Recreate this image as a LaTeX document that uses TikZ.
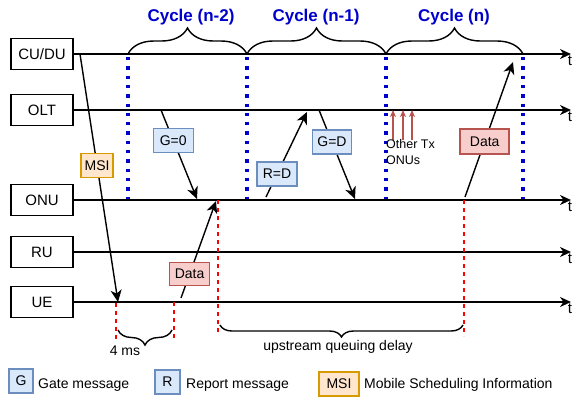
\documentclass[tikz,border=0pt]{standalone}
\usepackage{fontspec}
\setmainfont{Liberation Sans}
\usetikzlibrary{arrows.meta,decorations.pathreplacing}
\definecolor{cyc}{RGB}{0,0,204}
\definecolor{gfill}{HTML}{DAE8FC}
\definecolor{gline}{HTML}{6C8EBF}
\definecolor{dfill}{HTML}{F8CECC}
\definecolor{dline}{HTML}{B85450}
\definecolor{mfill}{HTML}{FFE6CC}
\definecolor{mline}{HTML}{D79B00}
\begin{document}
\begin{tikzpicture}[x=1pt,y=-1pt,
  every node/.style={font=\fontsize{14}{16}\selectfont},
  entity/.style={draw,line width=1.5pt,minimum width=62pt,minimum height=31pt,inner sep=0pt,font=\fontsize{15}{17}\selectfont},
  tl/.style={line width=1.4pt,-{Stealth[length=11pt,width=10pt,inset=3.5pt]}},
  msg/.style={line width=1.4pt,-{Stealth[length=12pt,width=11pt,inset=3.5pt]}},
  otx/.style={draw=dline,line width=1.3pt,-{Stealth[length=7pt,width=6pt,inset=2pt]}},
  tlab/.style={inner sep=0pt,anchor=north,font=\fontsize{15}{17}\selectfont},
  gbox/.style={draw=gline,fill=gfill,line width=1.4pt,inner sep=0pt,minimum height=24pt},
  dbox/.style={draw=dline,fill=dfill,line width=1.4pt,inner sep=0pt,minimum height=23pt},
  mbox/.style={draw=mline,fill=mfill,line width=1.4pt,inner sep=0pt,minimum height=24pt},
  cycline/.style={draw=cyc,line width=3.3pt,dash pattern=on 3.3pt off 6pt,dash phase=-3pt},
  reddash/.style={draw=red,line width=1.4pt,dash pattern=on 4pt off 4pt},
  brc/.style={decorate,decoration={brace,amplitude=#1},line width=1.4pt},
  brcm/.style={decorate,decoration={brace,mirror,amplitude=#1},line width=1.4pt},
  cyclab/.style={font=\fontsize{17}{20}\selectfont\bfseries,text=cyc,anchor=base},
]
\useasboundingbox (0,0) rectangle (573,397);

% entities
\node[entity] (cu) at (42,54) {CU/DU};
\node[entity] (olt) at (42,110) {OLT};
\node[entity] (onu) at (42,200) {ONU};
\node[entity] (ru) at (42,252) {RU};
\node[entity] (ue) at (42,302) {UE};

% cycle boundaries
\coordinate (c1t) at (128,54); \coordinate (c1b) at (128,200);
\coordinate (c2t) at (247,54); \coordinate (c2b) at (247,200);
\coordinate (c3t) at (386,54); \coordinate (c3b) at (386,200);
\coordinate (c4t) at (523,54); \coordinate (c4b) at (523,200);
\draw[cycline] (c1t) -- (c1b);
\draw[cycline] (c2t) -- (c2b);
\draw[cycline] (c3t) -- (c3b);
\draw[cycline] (c4t) -- (c4b);

% timelines
\coordinate (tend) at (571,0);
\draw[tl] (cu.east) -- (cu.east -| tend);
\draw[tl] (olt.east) -- (olt.east -| tend);
\draw[tl] (onu.east) -- (onu.east -| tend);
\draw[tl] (ru.east) -- (ru.east -| tend);
\draw[tl] (ue.east) -- (ue.east -| tend);
\node[tlab] (tcu) at (570,56) {t};
\node[tlab] (tolt) at (570,112) {t};
\node[tlab] (tonu) at (570,202) {t};
\node[tlab] (tru) at (570,254) {t};
\node[tlab] (tue) at (570,304) {t};

% top braces
\draw[brc=26pt] (c1t) -- (c2t);
\draw[brc=26pt] (c2t) -- (c3t);
\draw[brc=26pt] (c3t) -- (c4t);
\node[cyclab] (cy1) at (191,21) {Cycle (n-2)};
\node[cyclab] (cy2) at (316,21) {Cycle (n-1)};
\node[cyclab] (cy3) at (454,21) {Cycle (n)};

% red dashed markers
\coordinate (r1t) at (116,303); \coordinate (r1b) at (116,339);
\coordinate (r2t) at (174,302); \coordinate (r2b) at (174,339);
\coordinate (r3t) at (218,200); \coordinate (r3b) at (218,334);
\coordinate (r4t) at (464,200); \coordinate (r4b) at (464,336);
\draw[reddash] (r1t) -- (r1b);
\draw[reddash] (r2t) -- (r2b);
\draw[reddash] (r3t) -- (r3b);
\draw[reddash] (r4t) -- (r4b);

% messages
\coordinate (msiS) at (80,54); \coordinate (msiE) at (118,302);
\draw[msg] (msiS) -- node[mbox,minimum width=32pt,pos=0.45] (msi) {MSI} (msiE);
\coordinate (g0S) at (161,110); \coordinate (g0E) at (197,199);
\draw[msg] (g0S) -- node[gbox,minimum width=40pt,pos=0.34] (g0) {G=0} (g0E);
\coordinate (d1S) at (181,298); \coordinate (d1E) at (216,201);
\draw[msg] (d1S) -- node[dbox,minimum width=40pt,pos=0.245] (d1) {Data} (d1E);
\coordinate (rdS) at (266,197); \coordinate (rdE) at (307,112);
\draw[msg] (rdS) -- node[gbox,minimum width=40pt,pos=0.27] (rd) {R=D} (rdE);
\coordinate (gdS) at (319,110); \coordinate (gdE) at (355,199);
\draw[msg] (gdS) -- node[gbox,minimum width=39pt,pos=0.36] (gd) {G=D} (gdE);
\coordinate (d2S) at (465,197); \coordinate (d2E) at (513,62);
\draw[msg] (d2S) -- node[dbox,minimum width=49pt,minimum height=25pt,pos=0.41] (d2) {Data} (d2E);

% other ONUs
\coordinate (o1S) at (393,140); \coordinate (o1E) at (393,110);
\coordinate (o2S) at (403,140); \coordinate (o2E) at (403,110);
\coordinate (o3S) at (412,140); \coordinate (o3E) at (412,110);
\draw[otx] (o1S) -- (o1E);
\draw[otx] (o2S) -- (o2E);
\draw[otx] (o3S) -- (o3E);
\node[anchor=north west,inner sep=0pt,align=left,font=\fontsize{12.5}{16}\selectfont] (otxt) at (386,139) {Other Tx\\ONUs};

% bottom braces
\coordinate (b1a) at (118,330); \coordinate (b1b) at (172,330);
\coordinate (b2a) at (220,325); \coordinate (b2b) at (463,325);
\draw[brcm=15pt] (b1a) -- (b1b);
\draw[brcm=12pt] (b2a) -- (b2b);
\node[anchor=base,inner sep=0pt] (l4ms) at (125,355) {4 ms};
\node[anchor=base,inner sep=0pt] (luqd) at (338,350) {upstream queuing delay};

% legend
\node[gbox,minimum width=24pt] (lg) at (21,381) {G};
\node[anchor=base west,inner sep=0pt] (lgt) at (38,388) {Gate message};
\node[gbox,minimum width=25pt] (lr) at (167.5,382) {R};
\node[anchor=base west,inner sep=0pt] (lrt) at (186,388) {Report message};
\node[mbox,minimum width=40pt] (lm) at (339,384) {MSI};
\node[anchor=base west,inner sep=0pt] (lmt) at (364,388) {Mobile Scheduling Information};
\end{tikzpicture}
\end{document}
